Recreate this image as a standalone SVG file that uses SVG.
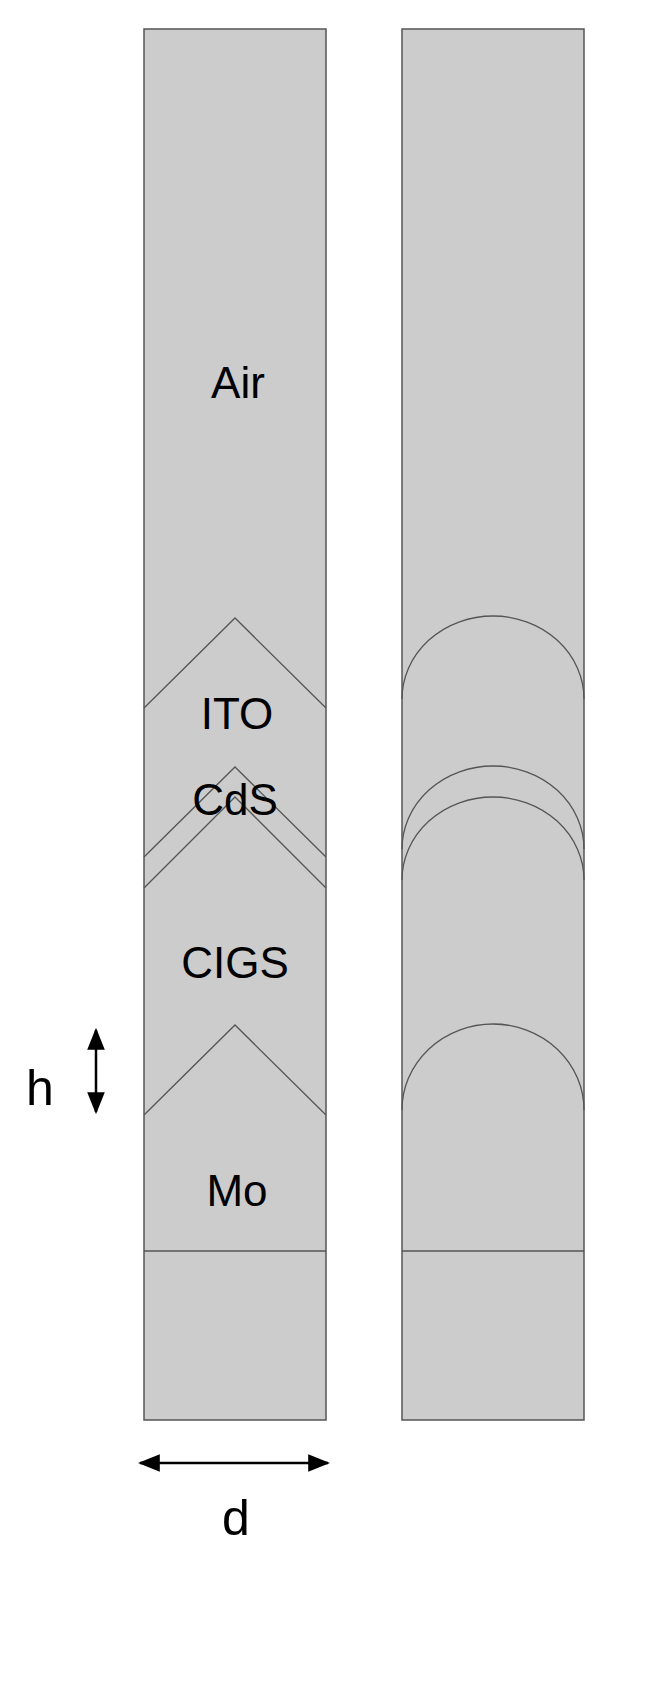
<svg xmlns="http://www.w3.org/2000/svg" width="657" height="1682" viewBox="0 0 657 1682">
<style>
.col{fill:#cccccc;stroke:#555;stroke-width:1.5}
.ln{fill:none;stroke:#555;stroke-width:1.3}
.t{font-family:"Liberation Sans",Arial,sans-serif;font-size:44px;fill:#000;text-anchor:middle}
.ar{stroke:#000;stroke-width:2.5;fill:none}
</style>
<defs>
<marker id="ah" viewBox="0 0 10 10" refX="9" refY="5" markerWidth="7" markerHeight="7" orient="auto-start-reverse" markerUnits="userSpaceOnUse"><path d="M0,0 L10,5 L0,10 z" fill="#000"/></marker>
<marker id="ah2" viewBox="0 0 10 10" refX="9" refY="5" markerWidth="22" markerHeight="22" orient="auto-start-reverse" markerUnits="userSpaceOnUse"><path d="M0,1 L10,5 L0,9 z" fill="#000"/></marker>
</defs>
<g id="left">
<rect class="col" x="144" y="29" width="182" height="1391"/>
<path class="ln" d="M144,708 L235,618 L326,708 M144,857 L235,767 L326,857 M144,888 L235,797 L326,888 M144,1115 L235,1025 L326,1115 M144,1251 H326"/>
</g>
<g id="right">
<rect class="col" x="402" y="29" width="182" height="1391"/>
<path class="ln" d="M402,699 A91,83 0 0 1 584,699 M402,849 A91,83 0 0 1 584,849 M402,880 A91,83 0 0 1 584,880 M402,1110 A91,86 0 0 1 584,1110 M402,1251 H584"/>
</g>
<g id="labels">
<text class="t" x="238" y="398">Air</text>
<text class="t" x="237" y="729">ITO</text>
<text class="t" x="235" y="815">CdS</text>
<text class="t" x="235" y="978">CIGS</text>
<text class="t" x="237" y="1206">Mo</text>
<text class="t" x="40" y="1105" style="font-size:50px">h</text>
<text class="t" x="236" y="1535" style="font-size:50px">d</text>
</g>
<g id="connectors">
<line class="ar" x1="96" y1="1030" x2="96" y2="1112" marker-start="url(#ah2)" marker-end="url(#ah2)"/>
<line class="ar" x1="140" y1="1463" x2="328" y2="1463" marker-start="url(#ah2)" marker-end="url(#ah2)"/>
</g>
</svg>
